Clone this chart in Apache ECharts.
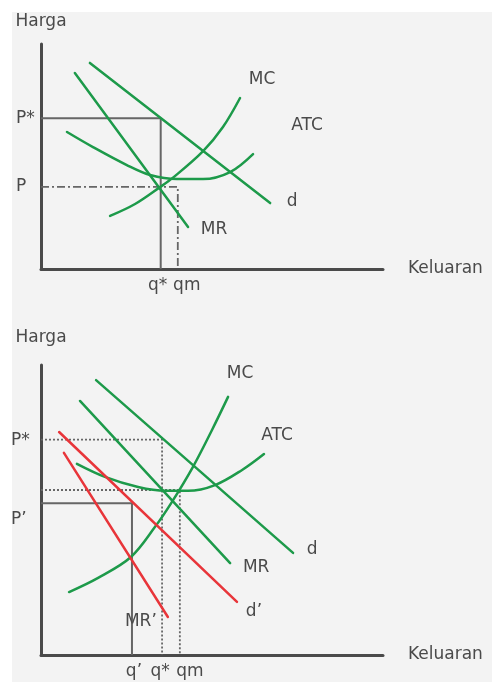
<!DOCTYPE html>
<html>
<head>
<meta charset="utf-8">
<script src="https://cdn.jsdelivr.net/npm/echarts@6/dist/echarts.min.js"></script>
<style>
  html, body { margin: 0; padding: 0; background: #ffffff; }
  #panel { position: absolute; left: 12px; top: 12px; width: 480px; height: 670px; background: #f3f3f3; }
  #chart { position: absolute; left: 0; top: 0; width: 492px; height: 682px; }
</style>
</head>
<body>
<div id="panel"></div>
<div id="chart"></div>
<script>
// ---- Upper diagram: firm earning economic profit ----
const topMR  = [[9.9, 87.1], [43.0, 18.7]];
const topD   = [[14.3, 91.6], [67.0, 29.3]];
const topMC  = [[20.2, 23.6], [27.5, 28.9], [34.8, 36.4], [38.6, 40.6], [47.4, 52.4], [53.2, 63.1], [58.2, 76.0]];
const topATC = [[7.6, 60.9], [15.2, 54.2], [25.1, 46.2], [31.9, 41.8], [39.8, 40.0], [47.4, 40.0], [55.3, 43.1], [62.0, 51.1]];
const topPriceNames = ['P*', 'P'];
const topPrices     = [67, 36.5];
const topQtyNames   = ['q*', 'qm'];
const topQty        = [35, 40];

// ---- Lower diagram: demand shifts to d' ----
const botD   = [[16.1, 94.8], [73.7, 35.2]];
const botMR  = [[11.4, 87.6], [55.3, 31.7]];
const botMC  = [[8.2, 21.7], [16.7, 26.6], [26.3, 33.8], [33.3, 44.1], [38.3, 52.8], [44.4, 64.8], [50.0, 77.6], [54.7, 89.0]];
const botATC = [[10.5, 65.9], [18.7, 61.4], [28.4, 57.9], [36.3, 56.6], [43.0, 56.6], [50.9, 58.6], [58.8, 63.8], [65.2, 69.3]];
const botD2  = [[5.3, 76.9], [57.3, 18.3]];
const botMR2 = [[6.7, 69.7], [37.1, 13.1]];
const botPriceNames = ['P*', 'P\u2019'];
const botPrices     = [74.3, 52.3];
const botMinATC     = 56.9;
const botQtyNames   = ['q\u2019', 'q*', 'qm'];
const botQty        = [26.6, 35.4, 40.6];

const FONT = 'DejaVu Sans';
const TEXT = '#4a4a4a';
const GREEN = '#1d9a4a';
const RED = '#e8353a';
const GUIDE = '#666666';
const AXIS = '#4a4a4a';

function curve(data, color, grid, smooth) {
  return {
    type: 'line', xAxisIndex: grid, yAxisIndex: grid, data: data,
    smooth: smooth ? 0.35 : false, symbol: 'none', silent: true, z: 3,
    lineStyle: { color: color, width: 2.5, cap: 'round' }
  };
}

function guide(q, p, grid, type, width) {
  return {
    type: 'line', xAxisIndex: grid, yAxisIndex: grid,
    data: [[0, p], [q, p], [q, 0]], symbol: 'none', silent: true, z: 2,
    lineStyle: { color: GUIDE, width: width, type: type }
  };
}

function textLabel(value, text, offset, align) {
  return {
    value: value,
    label: {
      show: true, position: 'inside', formatter: text, offset: offset,
      color: TEXT, fontSize: 17, fontFamily: FONT, align: align || 'center', verticalAlign: 'middle',
      textBorderWidth: 0, textBorderColor: 'transparent', opacity: 1
    }
  };
}

function labelSeries(grid, items) {
  return {
    type: 'scatter', xAxisIndex: grid, yAxisIndex: grid, symbolSize: 0, silent: true, z: 4,
    clip: false, itemStyle: { color: TEXT, opacity: 1 }, data: items
  };
}

// curve names sit just past the end of each curve
function curveLabels(items, grid) {
  return labelSeries(grid, items.map(function (it) {
    return textLabel(it.data[it.data.length - 1], it.name, it.offset);
  }));
}

// price names left of the vertical axis, quantity names under the horizontal axis
function axisMarks(grid, prices, priceNames, priceOffsets, qty, qtyNames, qtyOffsets) {
  const items = [];
  prices.forEach(function (p, i) { items.push(textLabel([0, p], priceNames[i], priceOffsets[i], 'left')); });
  qty.forEach(function (q, i) { items.push(textLabel([q, 0], qtyNames[i], qtyOffsets[i])); });
  return labelSeries(grid, items);
}

function xAxisFor(grid) {
  return {
    gridIndex: grid, type: 'value', min: 0, max: 100,
    axisLine: { show: true, onZero: false, lineStyle: { color: AXIS, width: 3 } },
    axisTick: { show: false }, splitLine: { show: false }, axisLabel: { show: false },
    name: 'Keluaran', nameLocation: 'end', nameGap: 25, nameMoveOverlap: false,
    nameTextStyle: { color: TEXT, fontSize: 17, fontFamily: FONT, align: 'left', verticalAlign: 'middle' }
  };
}

function yAxisFor(grid, gap) {
  return {
    gridIndex: grid, type: 'value', min: 0, max: 100,
    axisLine: { show: true, onZero: false, lineStyle: { color: AXIS, width: 3 } },
    axisTick: { show: false }, splitLine: { show: false }, axisLabel: { show: false },
    name: 'Harga', nameLocation: 'end', nameGap: gap, nameMoveOverlap: false,
    nameTextStyle: { color: TEXT, fontSize: 17, fontFamily: FONT, align: 'center', verticalAlign: 'middle' }
  };
}

const chart = echarts.init(document.getElementById('chart'), null, { renderer: 'canvas' });

chart.setOption({
  backgroundColor: 'transparent',
  animation: false,
  grid: [
    { left: 41, top: 44, width: 342, height: 225, containLabel: false, outerBoundsMode: 'none' },
    { left: 41, top: 365, width: 342, height: 290, containLabel: false, outerBoundsMode: 'none' }
  ],
  xAxis: [xAxisFor(0), xAxisFor(1)],
  yAxis: [yAxisFor(0, 22), yAxisFor(1, 27)],
  series: [
    // upper diagram
    guide(topQty[0], topPrices[0], 0, 'solid', 2),
    guide(topQty[1], topPrices[1], 0, [8, 3, 2, 3], 1.8),
    curve(topMR, GREEN, 0, false),
    curve(topD, GREEN, 0, false),
    curve(topATC, GREEN, 0, true),
    curve(topMC, GREEN, 0, true),
    curveLabels([
      { name: 'MC',  data: topMC,  offset: [22, -18] },
      { name: 'ATC', data: topATC, offset: [54, -28] },
      { name: 'd',   data: topD,   offset: [22, -1] },
      { name: 'MR',  data: topMR,  offset: [26, 3] }
    ], 0),
    axisMarks(0, topPrices, topPriceNames, [[-25, 0], [-25, 0]],
                 topQty, topQtyNames, [[-3, 17], [9, 17]]),

    // lower diagram
    guide(botQty[1], botPrices[0], 1, [2, 2], 1.8),
    guide(botQty[2], botMinATC, 1, [2, 2], 1.8),
    guide(botQty[0], botPrices[1], 1, 'solid', 2),
    curve(botD, GREEN, 1, false),
    curve(botMR, GREEN, 1, false),
    curve(botATC, GREEN, 1, true),
    curve(botMC, GREEN, 1, true),
    curve(botD2, RED, 1, false),
    curve(botMR2, RED, 1, false),
    curveLabels([
      { name: 'MC',        data: botMC,  offset: [12, -23] },
      { name: 'ATC',       data: botATC, offset: [13, -18] },
      { name: 'd',         data: botD,   offset: [19, -3] },
      { name: 'MR',        data: botMR,  offset: [26, 5] },
      { name: 'd\u2019',   data: botD2,  offset: [17, 10] },
      { name: 'MR\u2019',  data: botMR2, offset: [-27, 5] }
    ], 1),
    axisMarks(1, botPrices, botPriceNames, [[-30, 1], [-30, 16]],
                 botQty, botQtyNames, [[2, 17], [-2, 17], [10, 17]])
  ]
});
</script>
</body>
</html>
